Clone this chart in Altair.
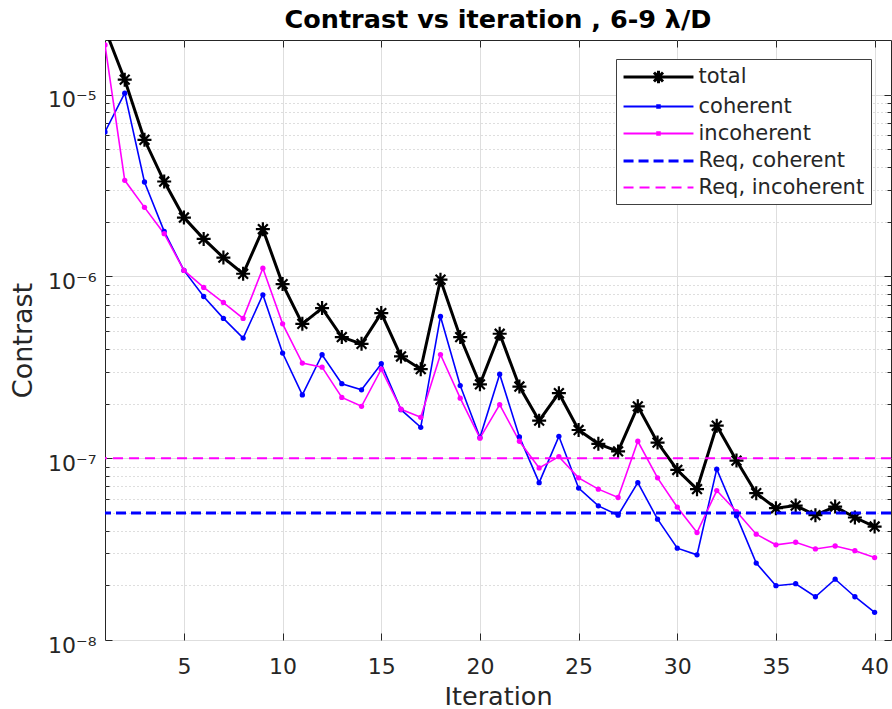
import altair as alt
import pandas as pd

# ---- data -------------------------------------------------------------
iterations = list(range(1, 41))

total = [2.3e-5, 1.21e-5, 5.65e-6, 3.33e-6, 2.11e-6, 1.61e-6, 1.27e-6, 1.035e-6, 1.82e-6, 9.08e-7,
         5.49e-7, 6.70e-7, 4.64e-7, 4.26e-7, 6.29e-7, 3.63e-7, 3.09e-7, 9.6e-7, 4.64e-7, 2.55e-7,
         4.84e-7, 2.48e-7, 1.61e-7, 2.28e-7, 1.43e-7, 1.20e-7, 1.09e-7, 1.93e-7, 1.22e-7, 8.62e-8,
         6.76e-8, 1.51e-7, 9.71e-8, 6.42e-8, 5.31e-8, 5.49e-8, 4.86e-8, 5.42e-8, 4.72e-8, 4.21e-8]

coherent = [6.24e-6, 1.02e-5, 3.31e-6, 1.77e-6, 1.08e-6, 7.76e-7, 5.88e-7, 4.58e-7, 7.93e-7, 3.79e-7,
            2.23e-7, 3.71e-7, 2.57e-7, 2.38e-7, 3.31e-7, 1.85e-7, 1.48e-7, 6.03e-7, 2.51e-7, 1.30e-7,
            2.90e-7, 1.31e-7, 7.34e-8, 1.32e-7, 6.85e-8, 5.47e-8, 4.86e-8, 7.34e-8, 4.62e-8, 3.2e-8,
            2.94e-8, 8.71e-8, 4.82e-8, 2.65e-8, 1.99e-8, 2.04e-8, 1.73e-8, 2.16e-8, 1.73e-8, 1.42e-8]

incoherent = [1.88e-5, 3.38e-6, 2.40e-6, 1.72e-6, 1.08e-6, 8.71e-7, 7.19e-7, 5.88e-7, 1.11e-6, 5.49e-7,
              3.34e-7, 3.17e-7, 2.16e-7, 1.93e-7, 3.09e-7, 1.86e-7, 1.68e-7, 3.72e-7, 2.14e-7, 1.29e-7,
              1.97e-7, 1.24e-7, 8.85e-8, 1.02e-7, 7.8e-8, 6.76e-8, 6.08e-8, 1.24e-7, 7.8e-8, 5.38e-8,
              3.9e-8, 6.64e-8, 5.09e-8, 3.82e-8, 3.34e-8, 3.45e-8, 3.17e-8, 3.29e-8, 3.1e-8, 2.84e-8]

req_names = ["Req, coherent", "Req, incoherent"]
req_levels = [5e-8, 1e-7]

series_names = ["total", "coherent", "incoherent", "Req, coherent", "Req, incoherent"]
series_colors = ["#000000", "#0000ff", "#ff00ff", "#0000ff", "#ff00ff"]
series_widths = [3, 1.8, 1.8, 3, 2]
series_dashes = [[1, 0], [1, 0], [1, 0], [10, 5], [10, 6]]

x_ticks = [5, 10, 15, 20, 25, 30, 35, 40]
y_major = [1e-8, 1e-7, 1e-6, 1e-5]
y_minor = [k * 10.0 ** e for e in (-8, -7, -6) for k in range(2, 10)]

# ---- tables -----------------------------------------------------------
rows = []
for name, vals in (("total", total), ("coherent", coherent), ("incoherent", incoherent)):
    for it, v in zip(iterations, vals):
        rows.append({"iteration": it, "contrast": v, "series": name})
df = pd.DataFrame(rows)
req = pd.DataFrame({"series": req_names, "level": req_levels})

FONT = "DejaVu Sans"
INK = "#262626"

# asterisk marker (unit-square SVG path)
STAR = "M-1,0L1,0M0,-1L0,1M-0.7,-0.7L0.7,0.7M-0.7,0.7L0.7,-0.7"
# legend glyphs: drawn at symbolSize 441 (unit = 10.5 px), a 70 px long sample line
LEG_STAR = "M-3.33,0L3.33,0M0,-0.6L0,0.6M-0.43,-0.43L0.43,0.43M-0.43,0.43L0.43,-0.43"
LEG_DOT = "M-3.33,0L3.33,0M-0.13,-0.13L0.13,-0.13L0.13,0.13L-0.13,0.13Z"
LEG_LINE = "M-3.33,0L3.33,0"
legend_glyphs = [LEG_STAR, LEG_DOT, LEG_DOT, LEG_LINE, LEG_LINE]

legend = alt.Legend(
    title=None,
    orient="none",
    legendX=511,
    legendY=19,
    labelFont=FONT,
    labelFontSize=21,
    labelColor=INK,
    labelLimit=400,
    labelOffset=28,
    symbolSize=441,
    symbolOffset=24.5,
    symbolOpacity=1,
    rowPadding=5,
    padding=6,
    fillColor="white",
    strokeColor="#404040",
    cornerRadius=0,
)

color = alt.Color("series:N", scale=alt.Scale(domain=series_names, range=series_colors), legend=legend)
dash = alt.StrokeDash("series:N", scale=alt.Scale(domain=series_names, range=series_dashes), legend=legend)
width = alt.StrokeWidth("series:N", scale=alt.Scale(type="ordinal", domain=series_names, range=series_widths),
                        legend=legend)
glyph = alt.Shape("series:N", scale=alt.Scale(domain=series_names, range=legend_glyphs), legend=legend)

x_scale = alt.Scale(domain=[1, 40.83], nice=False, zero=False)
y_scale = alt.Scale(type="log", domain=[1e-8, 2e-5], nice=False)

common = dict(domain=False, labelFont=FONT, titleFont=FONT, tickColor=INK, labelColor=INK, titleColor=INK)

# axes: grids, inward ticks on all four sides, labels on left/bottom
ax_x_grid = alt.Axis(orient="bottom", values=x_ticks, grid=True, gridColor="#dedede", ticks=False,
                     labels=False, title=None, **common)
ax_x_main = alt.Axis(orient="bottom", values=x_ticks, grid=False, offset=-7, tickSize=7,
                     labelFontSize=22, labelPadding=16, labelFlush=False, labelOverlap=False,
                     title="Iteration", titleFontSize=25.5, titleFontWeight="normal", titlePadding=7,
                     **common)
ax_x_top = alt.Axis(orient="top", values=x_ticks, grid=False, offset=-7, tickSize=7, labels=False,
                    title=None, **common)

ax_y_grid = alt.Axis(orient="left", values=y_major, grid=True, gridColor="#dedede", ticks=False,
                     labels=False, title=None, **common)
ax_y_grid_minor = alt.Axis(orient="left", values=y_minor, grid=True, gridColor="#bdbdbd",
                           gridDash=[1, 3], ticks=False, labels=False, title=None, **common)
ax_y_main = alt.Axis(orient="left", values=y_major, grid=False, offset=-7, tickSize=7,
                     labelFontSize=22, labelPadding=9, labelBaseline="alphabetic", labelOffset=12,
                     labelOverlap=False, labelFlush=False,
                     labelExpr="datum.value < 5e-8 ? '10⁻⁸' : datum.value < 5e-7 ? '10⁻⁷' : "
                               "datum.value < 5e-6 ? '10⁻⁶' : '10⁻⁵'",
                     title="Contrast", titleFontSize=27, titleFontWeight="normal", titlePadding=10,
                     **common)
ax_y_minor = alt.Axis(orient="left", values=y_minor, grid=False, offset=-4, tickSize=4, labels=False,
                      title=None, **common)
ax_y_right = alt.Axis(orient="right", values=y_major, grid=False, offset=-7, tickSize=7, labels=False,
                      title=None, **common)
ax_y_right_minor = alt.Axis(orient="right", values=y_minor, grid=False, offset=-4, tickSize=4,
                            labels=False, title=None, **common)


def xy(xaxis, yaxis):
    return dict(
        x=alt.X("iteration:Q", scale=x_scale, axis=xaxis),
        y=alt.Y("contrast:Q", scale=y_scale, axis=yaxis),
    )


base = alt.Chart(df)

line_total = base.transform_filter("datum.series == 'total'").mark_line(
    clip=True, strokeWidth=3).encode(color=color, **xy(ax_x_grid, ax_y_grid))
line_coh = base.transform_filter("datum.series == 'coherent'").mark_line(
    clip=True, strokeWidth=1.6).encode(color=color, **xy(ax_x_main, ax_y_grid_minor))
line_inc = base.transform_filter("datum.series == 'incoherent'").mark_line(
    clip=True, strokeWidth=1.6).encode(color=color, **xy(ax_x_top, ax_y_main))

stars = base.transform_filter("datum.series == 'total'").mark_point(
    clip=True, shape=STAR, size=196, filled=False, strokeWidth=2.2, opacity=1).encode(
    color=color, **xy(None, ax_y_minor))
dots_coh = base.transform_filter("datum.series == 'coherent'").mark_point(
    clip=True, shape="circle", size=28, filled=True, opacity=1).encode(
    color=color, **xy(None, ax_y_right))
dots_inc = base.transform_filter("datum.series == 'incoherent'").mark_point(
    clip=True, shape="circle", size=28, filled=True, opacity=1).encode(
    color=color, **xy(None, ax_y_right_minor))

# transparent layer that only feeds the legend glyphs
legend_keys = base.mark_point(filled=False, opacity=0).encode(
    color=color, shape=glyph, strokeDash=dash, strokeWidth=width, **xy(None, None))

req_rules = alt.Chart(req).mark_rule(clip=True).encode(
    y=alt.Y("level:Q", scale=y_scale, axis=None),
    color=color,
    strokeDash=dash,
    strokeWidth=width,
)

chart = alt.layer(
    line_total, line_coh, line_inc, stars, dots_coh, dots_inc, req_rules, legend_keys
).resolve_axis(
    x="independent", y="independent"
).properties(
    width=786,
    height=600,
    title=alt.TitleParams(
        "Contrast vs iteration , 6-9 λ/D",
        font=FONT, fontSize=25.5, fontWeight="bold", color="#000000",
        anchor="middle", frame="group", offset=6, dy=12,
    ),
    padding={"left": 105, "top": 40, "right": 1, "bottom": 69},
    autosize=alt.AutoSizeParams(type="none"),
    background="white",
).configure_view(stroke=INK, strokeWidth=1)

chart.save("out.html", embed_options={"renderer": "svg", "actions": False})
